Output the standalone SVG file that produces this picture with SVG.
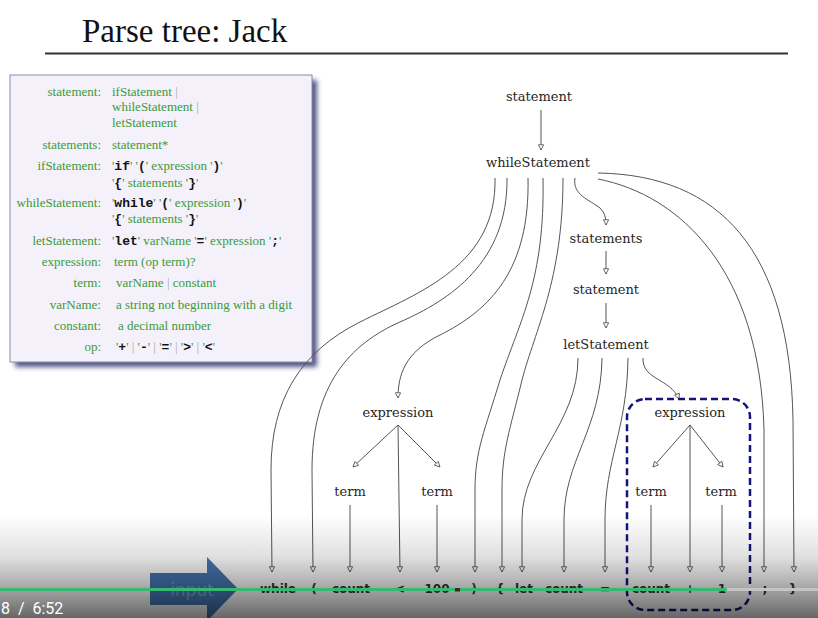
<svg xmlns="http://www.w3.org/2000/svg" width="818" height="618" viewBox="0 0 818 618">
  <style>
    .title { font-family: "Liberation Serif", serif; font-size: 33px; fill: #111; }
    .g { font-family: "Liberation Serif", serif; font-size: 13px; fill: #3a9a3a; }
    .lbl { text-anchor: end; }
    .k { font-family: "Liberation Mono", monospace; font-weight: bold; fill: #111; }
    .bar { fill: #aaa; }
    .node { font-family: "DejaVu Serif", serif; font-size: 13px; fill: #262626; text-anchor: middle; }
    .leaf { font-family: "DejaVu Sans", sans-serif; font-weight: bold; font-size: 12px; fill: #333; text-anchor: middle; }
    .edge { fill: none; stroke: #555; stroke-width: 1; }
    .arr { marker-end: url(#head); }
  </style>
  <defs>
    <marker id="head" viewBox="0 0 8 8" refX="7" refY="4" markerWidth="7" markerHeight="7" markerUnits="userSpaceOnUse" orient="auto">
      <path d="M1,1 L7,4 L1,7 z" fill="#fff" stroke="#555" stroke-width="1"/>
    </marker>
    <filter id="shadow" x="-10%" y="-10%" width="125%" height="125%">
      <feGaussianBlur stdDeviation="2.5"/>
    </filter>
    <linearGradient id="fade" x1="0" y1="0" x2="0" y2="1">
      <stop offset="0" stop-color="#000" stop-opacity="0"/>
      <stop offset="0.4" stop-color="#000" stop-opacity="0.12"/>
      <stop offset="0.65" stop-color="#000" stop-opacity="0.3"/>
      <stop offset="1" stop-color="#000" stop-opacity="0.6"/>
    </linearGradient>
  </defs>

  <rect width="818" height="618" fill="#fff"/>

  <!-- title -->
  <g id="title">
    <text class="title" x="82" y="42">Parse tree: Jack</text>
    <line x1="45" y1="53.5" x2="788" y2="53.5" stroke="#333" stroke-width="2"/>
  </g>

  <!-- grammar box -->
  <g id="grammar">
    <rect x="15" y="80" width="302" height="287" fill="#2a2f66" opacity="0.8" filter="url(#shadow)"/>
    <rect x="10" y="75" width="302" height="287" fill="#f4f1fb" stroke="#8a8ab0" stroke-width="1"/>
    <text class="g lbl" x="101" y="96">statement:</text>
    <text class="g" x="112" y="96">ifStatement <tspan class="bar">|</tspan></text>
    <text class="g" x="112" y="111">whileStatement <tspan class="bar">|</tspan></text>
    <text class="g" x="112" y="127">letStatement</text>
    <text class="g lbl" x="101" y="149">statements:</text>
    <text class="g" x="112" y="149">statement*</text>
    <text class="g lbl" x="101" y="170">ifStatement:</text>
    <text class="g" x="112" y="170">'<tspan class="k">if</tspan>' '<tspan class="k">(</tspan>' expression '<tspan class="k">)</tspan>'</text>
    <text class="g" x="112" y="187">'<tspan class="k">{</tspan>' statements '<tspan class="k">}</tspan>'</text>
    <text class="g lbl" x="101" y="207">whileStatement:</text>
    <text class="g" x="112" y="207">'<tspan class="k">while</tspan>' '<tspan class="k">(</tspan>' expression '<tspan class="k">)</tspan>'</text>
    <text class="g" x="112" y="223">'<tspan class="k">{</tspan>' statements '<tspan class="k">}</tspan>'</text>
    <text class="g lbl" x="101" y="245">letStatement:</text>
    <text class="g" x="112" y="245">'<tspan class="k">let</tspan>' varName '<tspan class="k">=</tspan>' expression '<tspan class="k">;</tspan>'</text>
    <text class="g lbl" x="101" y="266">expression:</text>
    <text class="g" x="114" y="266">term (op term)?</text>
    <text class="g lbl" x="101" y="287">term:</text>
    <text class="g" x="116" y="287">varName <tspan class="bar">|</tspan> constant</text>
    <text class="g lbl" x="101" y="309">varName:</text>
    <text class="g" x="116" y="309">a string not beginning  with a digit</text>
    <text class="g lbl" x="101" y="330">constant:</text>
    <text class="g" x="118" y="330">a decimal number</text>
    <text class="g lbl" x="101" y="351">op:</text>
    <text class="g" x="116" y="351">'<tspan class="k">+</tspan>' <tspan class="bar">|</tspan> '<tspan class="k">-</tspan>' <tspan class="bar">|</tspan> '<tspan class="k">=</tspan>' <tspan class="bar">|</tspan> '<tspan class="k">&gt;</tspan>' <tspan class="bar">|</tspan> '<tspan class="k">&lt;</tspan>'</text>
  </g>

  <!-- connectors -->
  <g id="edges" class="edge">
    <path class="arr" d="M541,110 L541,150"/>
    <!-- whileStatement children -->
    <path class="arr" d="M495,178 C497,265 420,292 360,322 C300,352 271,400 271,470 L272,572"/>
    <path class="arr" d="M507,178 C508,262 450,300 400,322 C350,344 312,385 312,470 L313,572"/>
    <path class="arr" d="M528,178 C530,270 490,310 440,335 C405,352 398,375 398,398"/>
    <path class="arr" d="M543,178 C545,280 520,320 500,380 C485,430 475,450 475,490 L475,572"/>
    <path class="arr" d="M563,178 C563,280 535,330 522,380 C510,430 502,450 502,490 L502,572"/>
    <path class="arr" d="M575,178 C572,195 590,200 600,208 C605,213 606,218 606,225"/>
    <path class="arr" d="M598,179 C680,195 760,270 764,430 L764,572"/>
    <path class="arr" d="M598,173 C720,175 790,250 793,420 L794,572"/>
    <!-- statements chain -->
    <path class="arr" d="M606,251 L606,274"/>
    <path class="arr" d="M606,303 L606,328"/>
    <!-- letStatement children -->
    <path class="arr" d="M578,358 C578,425 522,460 522,520 L522,572"/>
    <path class="arr" d="M602,358 C601,430 564,460 564,520 L564,572"/>
    <path class="arr" d="M628,358 C627,430 605,460 605,520 L605,572"/>
    <path class="arr" d="M643,358 C642,380 670,378 679,399"/>
    <!-- left expression -->
    <path class="arr" d="M398,425 L353,467"/>
    <path class="arr" d="M398,425 L440,467"/>
    <path class="arr" d="M398,425 L400,572"/>
    <path class="arr" d="M350,505 L350,572"/>
    <path class="arr" d="M437,505 L437,572"/>
    <!-- right expression -->
    <path class="arr" d="M690,425 L653,467"/>
    <path class="arr" d="M690,425 L723,467"/>
    <path class="arr" d="M690,425 L690,572"/>
    <path class="arr" d="M651,505 L651,572"/>
    <path class="arr" d="M722,505 L722,572"/>
  </g>

  <!-- tree nodes -->
  <g id="n-statement"><text class="node" x="539" y="101">statement</text></g>
  <g id="n-whileStatement"><text class="node" x="538" y="167">whileStatement</text></g>
  <g id="n-statements"><text class="node" x="606" y="243">statements</text></g>
  <g id="n-statement2"><text class="node" x="606" y="294">statement</text></g>
  <g id="n-letStatement"><text class="node" x="606" y="349">letStatement</text></g>
  <g id="n-expression1"><text class="node" x="398" y="417">expression</text></g>
  <g id="n-term1"><text class="node" x="350" y="496">term</text></g>
  <g id="n-term2"><text class="node" x="437" y="496">term</text></g>
  <g id="n-expression2"><text class="node" x="690" y="417">expression</text></g>
  <g id="n-term3"><text class="node" x="651" y="496">term</text></g>
  <g id="n-term4"><text class="node" x="721" y="496">term</text></g>

  <!-- input tokens -->
  <g id="tokens">
    <text class="leaf" x="278" y="593">while</text>
    <text class="leaf" x="314" y="593">(</text>
    <text class="leaf" x="351" y="593">count</text>
    <text class="leaf" x="400" y="593">&lt;</text>
    <text class="leaf" x="437" y="593">100</text>
    <text class="leaf" x="474" y="593">)</text>
    <text class="leaf" x="500" y="593">{</text>
    <text class="leaf" x="524" y="593">let</text>
    <text class="leaf" x="564" y="593">count</text>
    <text class="leaf" x="605" y="593">=</text>
    <text class="leaf" x="651" y="593">count</text>
    <text class="leaf" x="690" y="593">+</text>
    <text class="leaf" x="722" y="593">1</text>
    <text class="leaf" x="765" y="593">;</text>
    <text class="leaf" x="793" y="593">}</text>
  </g>

  <!-- highlighted sub-expression -->
  <g id="highlight">
    <rect x="627" y="399" width="123" height="211" rx="18" fill="none" stroke="#14147a" stroke-width="2.5" stroke-dasharray="7,4"/>
  </g>

  <!-- input arrow -->
  <g id="input">
    <polygon points="150,573 207,573 207,557 238,589 207,621 207,605 150,605" fill="#4677b4"/>
    <text x="192" y="596" text-anchor="middle" font-family="'DejaVu Sans', sans-serif" font-size="17" fill="#7d9fd0">input</text>
  </g>

  <!-- player overlay -->
  <rect x="0" y="515" width="818" height="103" fill="url(#fade)"/>
  <rect x="0" y="588" width="727" height="3" fill="#35b870"/>
  <rect x="727" y="588" width="91" height="3" fill="#c4c4c4"/>
  <rect x="455" y="588" width="5" height="3.5" fill="#3a2a10"/>
  <text x="1" y="614" font-family="Roboto, sans-serif" font-size="16" fill="#fff" xml:space="preserve">8  /  6:52</text>
</svg>
